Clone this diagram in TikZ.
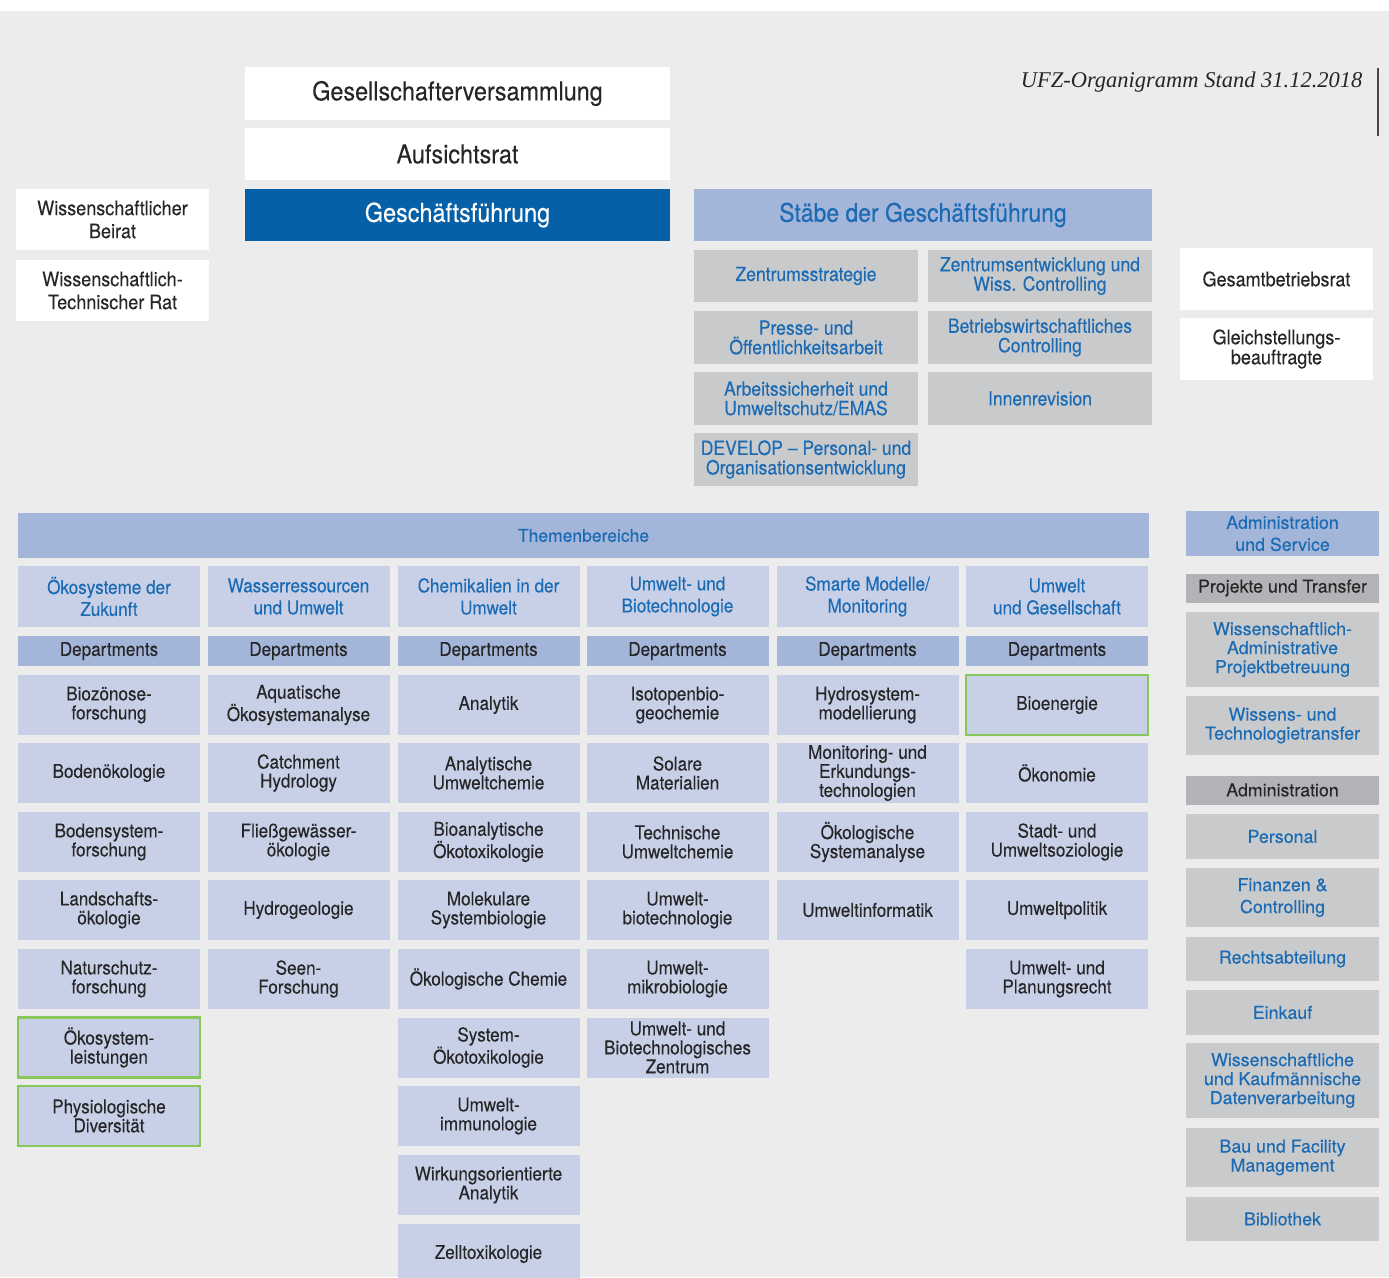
\documentclass[tikz,border=0pt]{standalone}
\usepackage{fontspec}
\setmainfont{TeX Gyre Heros}[FakeStretch=0.9, FakeBold=0.15]
\newfontfamily\widefont{TeX Gyre Heros}[FakeBold=0.3]
\newfontfamily\plainfont{TeX Gyre Heros}[FakeBold=0.1]
\newfontfamily\titlefont{Liberation Serif}
\usepackage{xcolor}
\definecolor{bggray}{HTML}{ECECEC}
\definecolor{gfblue}{HTML}{0560A8}
\definecolor{headblue}{HTML}{A3B5D9}
\definecolor{paleblue}{HTML}{C8D0E8}
\definecolor{txtblue}{HTML}{1A6AB4}
\definecolor{txtdark}{HTML}{262626}
\definecolor{staffgray}{HTML}{C9CACC}
\definecolor{darkgray}{HTML}{B2B3B6}
\definecolor{ecogreen}{HTML}{88C75A}
\usepackage{tikz}
\tikzset{
    base/.style = {rectangle, inner sep=0pt, align=center},
    whitebox/.style = {base, fill=white, text=txtdark, minimum width=193pt,
                       font=\fontsize{20}{23}\selectfont},
    bigbox/.style = {base, minimum width=425pt, minimum height=52pt,
                     font=\fontsize{26}{28}\selectfont},
    topicbox/.style = {base, fill=paleblue, text=txtblue, minimum width=182pt,
                       minimum height=61pt, font=\fontsize{19}{22}\selectfont},
    deptlabel/.style = {base, fill=headblue, text=txtdark, minimum width=182pt,
                        minimum height=30pt, font=\fontsize{19}{19}\selectfont},
    deptbox/.style = {base, fill=paleblue, text=txtdark, minimum width=182pt,
                      minimum height=60pt, font=\fontsize{19}{19}\selectfont},
    greenbox/.style = {deptbox, draw=ecogreen, line width=2.5pt},
    staffbox/.style = {base, fill=staffgray, text=txtblue, minimum width=224pt,
                       minimum height=52pt, font=\fontsize{19.5}{19.5}\selectfont},
    svcbox/.style = {base, fill=staffgray, text=txtblue, minimum width=193pt,
                     font=\widefont\fontsize{17.8}{19}\selectfont},
    svchead/.style = {base, fill=darkgray, text=txtdark, minimum width=193pt,
                      minimum height=29pt, font=\plainfont\fontsize{17.8}{19}\selectfont},
}

\begin{document}
\begin{tikzpicture}[x=1pt, y=-1pt]
    \useasboundingbox (0,0) rectangle (1389,1277);
    \fill[white] (0,0) rectangle (1389,11);
    \fill[bggray] (0,11) rectangle (1389,1277);

    % title
    \node[anchor=base east, text=txtdark, font=\titlefont\itshape\fontsize{22.5}{24}\selectfont]
        (stand) at (1366,87) {UFZ-Organigramm Stand 31.12.2018};
    \draw[line width=1.5pt, txtdark!85] (1378,68) -- (1378,136);

    % governing bodies
    \node[bigbox, fill=white, text=txtdark, minimum height=53pt]
        (gv) at (457.5,93.5) {Gesellschafterversammlung};
    \node[bigbox, fill=white, text=txtdark] (ar) at (457.5,154) {Aufsichtsrat};
    \node[bigbox, fill=gfblue, text=white] (gf) at (457.5,215) {Geschäftsführung};
    \node[whitebox, minimum height=61pt] (wb) at (112.5,219.5) {Wissenschaftlicher\\Beirat};
    \node[whitebox, minimum height=61pt] (wtr) at (112.5,290.5) {Wissenschaftlich-\\Technischer Rat};

    % staff units
    \node[base, fill=headblue, text=txtblue, minimum width=458pt, minimum height=52pt,
          font=\fontsize{25.5}{26}\selectfont]
        (stab) at (923,215) {Stäbe der Geschäftsführung};
    \node[staffbox] (zs) at (806,276) {Zentrumsstrategie};
    \node[staffbox] (zw) at (1040,276) {Zentrumsentwicklung und\\Wiss. Controlling};
    \node[staffbox, minimum height=53pt] (pr) at (806,337.5) {Presse- und\\Öffentlichkeitsarbeit};
    \node[staffbox, minimum height=53pt] (bw) at (1040,337.5) {Betriebswirtschaftliches\\Controlling};
    \node[staffbox, minimum height=53pt] (as) at (806,398.5) {Arbeitssicherheit und\\Umweltschutz/EMAS};
    \node[staffbox, minimum height=53pt] (ir) at (1040,398.5) {Innenrevision};
    \node[staffbox, minimum height=53pt] (dev) at (806,459.5) {DEVELOP – Personal- und\\Organisationsentwicklung};

    \node[whitebox, minimum height=62pt, font=\fontsize{20}{20}\selectfont]
        (gbr) at (1276.5,279) {Gesamtbetriebsrat};
    \node[whitebox, minimum height=62pt, font=\fontsize{20}{20}\selectfont]
        (gsb) at (1276.5,349) {Gleichstellungs-\\beauftragte};

    % research topics
    \node[base, fill=headblue, text=txtblue, minimum width=1131pt, minimum height=45pt,
          font=\widefont\fontsize{17.5}{19}\selectfont]
        (themen) at (583.5,535.5) {Themenbereiche};
    \node[topicbox] (t1) at (109,596.5) {Ökosysteme der\\Zukunft};
    \node[topicbox] (t2) at (298.5,596.5) {Wasserressourcen\\und Umwelt};
    \node[topicbox] (t3) at (488.5,596.5) {Chemikalien in der\\Umwelt};
    \node[topicbox] (t4) at (677.5,596.5) {Umwelt- und\\Biotechnologie};
    \node[topicbox] (t5) at (867.5,596.5) {Smarte Modelle/\\Monitoring};
    \node[topicbox] (t6) at (1057,596.5) {Umwelt\\und Gesellschaft};
    \foreach \x [count=\i] in {109,298.5,488.5,677.5,867.5,1057}
        \node[deptlabel] (dl\i) at (\x,651) {Departments};

    % departments, column 1
    \node[deptbox] (bioz) at (109,705) {Biozönose-\\forschung};
    \node[deptbox] (bodoek) at (109,773) {Bodenökologie};
    \node[deptbox] (bodsys) at (109,842) {Bodensystem-\\forschung};
    \node[deptbox] (land) at (109,910) {Landschafts-\\ökologie};
    \node[deptbox] (natur) at (109,979) {Naturschutz-\\forschung};
    \node[greenbox] (oesl) at (109,1047.5) {Ökosystem-\\leistungen};
    \node[greenbox] (phys) at (109,1116) {Physiologische\\Diversität};
    % column 2
    \node[deptbox] (aqua) at (298.5,705) {Aquatische\\Ökosystemanalyse};
    \node[deptbox] (catch) at (298.5,773) {Catchment\\Hydrology};
    \node[deptbox] (fliess) at (298.5,842) {Fließgewässer-\\ökologie};
    \node[deptbox] (hydgeo) at (298.5,910) {Hydrogeologie};
    \node[deptbox] (seen) at (298.5,979) {Seen-\\Forschung};
    % column 3
    \node[deptbox] (ana) at (488.5,705) {Analytik};
    \node[deptbox] (anauc) at (488.5,773) {Analytische\\Umweltchemie};
    \node[deptbox] (bioana) at (488.5,842) {Bioanalytische\\Ökotoxikologie};
    \node[deptbox] (molsys) at (488.5,910) {Molekulare\\Systembiologie};
    \node[deptbox] (oekch) at (488.5,979) {Ökologische Chemie};
    \node[deptbox] (sysoek) at (488.5,1047.5) {System-\\Ökotoxikologie};
    \node[deptbox] (immun) at (488.5,1116) {Umwelt-\\immunologie};
    \node[deptbox] (wirk) at (488.5,1185) {Wirkungsorientierte\\Analytik};
    \node[deptbox] (zell) at (488.5,1254) {Zelltoxikologie};
    % column 4
    \node[deptbox] (iso) at (677.5,705) {Isotopenbio-\\geochemie};
    \node[deptbox] (solar) at (677.5,773) {Solare\\Materialien};
    \node[deptbox] (techuc) at (677.5,842) {Technische\\Umweltchemie};
    \node[deptbox] (ubiot) at (677.5,910) {Umwelt-\\biotechnologie};
    \node[deptbox] (umikro) at (677.5,979) {Umwelt-\\mikrobiologie};
    \node[deptbox] (ubz) at (677.5,1047.5) {Umwelt- und\\Biotechnologisches\\Zentrum};
    % column 5
    \node[deptbox] (hydmod) at (867.5,705) {Hydrosystem-\\modellierung};
    \node[deptbox] (monit) at (867.5,773) {Monitoring- und\\Erkundungs-\\technologien};
    \node[deptbox] (oeksys) at (867.5,842) {Ökologische\\Systemanalyse};
    \node[deptbox] (uinf) at (867.5,910) {Umweltinformatik};
    % column 6
    \node[greenbox] (bioen) at (1057,705) {Bioenergie};
    \node[deptbox] (oekon) at (1057,773) {Ökonomie};
    \node[deptbox] (stadt) at (1057,842) {Stadt- und\\Umweltsoziologie};
    \node[deptbox] (upol) at (1057,910) {Umweltpolitik};
    \node[deptbox] (urecht) at (1057,979) {Umwelt- und\\Planungsrecht};

    % administration and service
    \node[base, fill=headblue, text=txtblue, minimum width=193pt, minimum height=45pt,
          font=\widefont\fontsize{17.8}{22}\selectfont]
        (aus) at (1282.5,533.5) {Administration\\und Service};
    \node[svchead] (put) at (1282.5,588) {Projekte und Transfer};
    \node[svcbox, minimum height=75pt] (wap) at (1282.5,649.5) {Wissenschaftlich-\\Administrative\\Projektbetreuung};
    \node[svcbox, minimum height=59pt] (wtt) at (1282.5,725.5) {Wissens- und\\Technologietransfer};
    \node[svchead] (adm) at (1282.5,790) {Administration};
    \node[svcbox, minimum height=45pt] (pers) at (1282.5,836.5) {Personal};
    \node[svcbox, minimum height=59pt, font=\widefont\fontsize{17.8}{22}\selectfont]
        (fin) at (1282.5,897.5) {Finanzen \&\\Controlling};
    \node[svcbox, minimum height=44pt] (recht) at (1282.5,959) {Rechtsabteilung};
    \node[svcbox, minimum height=45pt] (eink) at (1282.5,1012.5) {Einkauf};
    \node[svcbox, minimum height=75pt] (wkd) at (1282.5,1080.5) {Wissenschaftliche\\und Kaufmännische\\Datenverarbeitung};
    \node[svcbox, minimum height=59pt] (bau) at (1282.5,1157.5) {Bau und Facility\\Management};
    \node[svcbox, minimum height=44pt] (bib) at (1282.5,1219) {Bibliothek};
\end{tikzpicture}
\end{document}
